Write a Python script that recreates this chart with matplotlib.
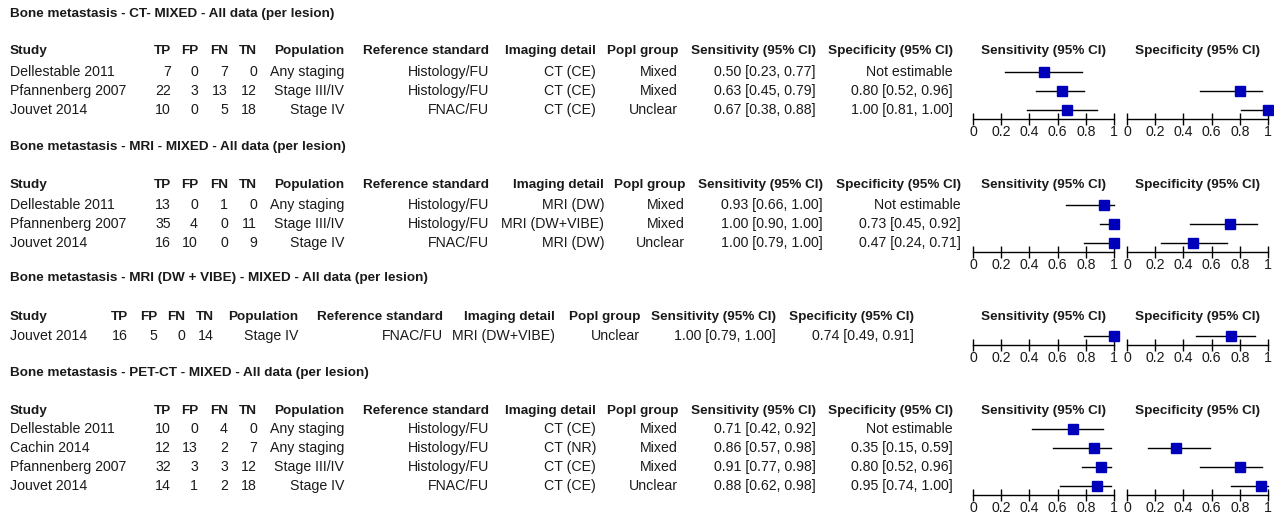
import numpy as np
import matplotlib
matplotlib.use("Agg")
from matplotlib import pyplot as plt

# --- data
titles = ["Bone metastasis - CT- MIXED - All data (per lesion)",
          "Bone metastasis - MRI - MIXED - All data (per lesion)",
          "Bone metastasis - MRI (DW + VIBE) - MIXED - All data (per lesion)",
          "Bone metastasis - PET-CT - MIXED - All data (per lesion)"]

studies = [["Dellestable 2011", "Pfannenberg 2007", "Jouvet 2014"],
           ["Dellestable 2011", "Pfannenberg 2007", "Jouvet 2014"],
           ["Jouvet 2014"],
           ["Dellestable 2011", "Cachin 2014", "Pfannenberg 2007", "Jouvet 2014"]]

tp = [[7, 22, 10], [13, 35, 16], [16], [10, 12, 32, 14]]
fp = [[0, 3, 0], [0, 4, 10], [5], [0, 13, 3, 1]]
fn = [[7, 13, 5], [1, 0, 0], [0], [4, 2, 3, 2]]
tn = [[0, 12, 18], [0, 11, 9], [14], [0, 7, 12, 18]]

population = [["Any staging", "Stage III/IV", "Stage IV"],
              ["Any staging", "Stage III/IV", "Stage IV"],
              ["Stage IV"],
              ["Any staging", "Any staging", "Stage III/IV", "Stage IV"]]
ref_std = [["Histology/FU", "Histology/FU", "FNAC/FU"],
           ["Histology/FU", "Histology/FU", "FNAC/FU"],
           ["FNAC/FU"],
           ["Histology/FU", "Histology/FU", "Histology/FU", "FNAC/FU"]]
imaging = [["CT (CE)", "CT (CE)", "CT (CE)"],
           ["MRI (DW)", "MRI (DW+VIBE)", "MRI (DW)"],
           ["MRI (DW+VIBE)"],
           ["CT (CE)", "CT (NR)", "CT (CE)", "CT (CE)"]]
popl_group = [["Mixed", "Mixed", "Unclear"],
              ["Mixed", "Mixed", "Unclear"],
              ["Unclear"],
              ["Mixed", "Mixed", "Mixed", "Unclear"]]

sens = [[0.50, 0.63, 0.67], [0.93, 1.00, 1.00], [1.00], [0.71, 0.86, 0.91, 0.88]]
sens_lo = [[0.23, 0.45, 0.38], [0.66, 0.90, 0.79], [0.79], [0.42, 0.57, 0.77, 0.62]]
sens_hi = [[0.77, 0.79, 0.88], [1.00, 1.00, 1.00], [1.00], [0.92, 0.98, 0.98, 0.98]]

# None = not estimable
spec = [[None, 0.80, 1.00], [None, 0.73, 0.47], [0.74], [None, 0.35, 0.80, 0.95]]
spec_lo = [[None, 0.52, 0.81], [None, 0.45, 0.24], [0.49], [None, 0.15, 0.52, 0.74]]
spec_hi = [[None, 0.96, 1.00], [None, 0.92, 0.71], [0.91], [None, 0.59, 0.96, 1.00]]

headers = ["Study", "TP", "FP", "FN", "TN", "Population", "Reference standard",
           "Imaging detail", "Popl group", "Sensitivity (95% CI)", "Specificity (95% CI)"]
tick_vals = [0, 0.2, 0.4, 0.6, 0.8, 1]
tick_labels = ["0", "0.2", "0.4", "0.6", "0.8", "1"]

# --- layout (pixels)
W, H = 1274, 513
FS = 10.2      # regular text
FSB = 9.7      # bold titles / headers
TXT = "#1a1a1a"
BLUE = "#0000bb"
title_y = [14, 147, 278, 373]
header_y = [51, 185, 317, 411]
row0_y = [72, 205, 336, 429]
row_step = 19.0
axis_gap = 8.5
# left edge of study column, right edges of the other columns
col_x = [
    [10, 171, 198, 228, 257, 344, 489, 596, 678, 816, 953],
    [10, 171, 198, 228, 257, 344, 489, 604, 685, 823, 961],
    [10, 128, 157, 185, 214, 298, 443, 555, 640, 776, 914],
    [10, 171, 198, 228, 257, 344, 489, 596, 678, 816, 953],
]
sens_ax_x = (973, 1114)
spec_ax_x = (1127, 1268)

plt.rcParams['font.family'] = ['Liberation Sans', 'DejaVu Sans']

fig = plt.figure(figsize=(W / 100, H / 100), dpi=100)
bg = fig.add_axes([0, 0, 1, 1])
bg.set_xlim(0, W)
bg.set_ylim(H, 0)
bg.axis('off')


def fmt_ci(e, lo, hi):
    if e is None:
        return "Not estimable"
    return "%.2f [%.2f, %.2f]" % (e, lo, hi)


def forest(x_rng, y_top, n, est, lo, hi):
    y_axis = y_top + (n - 1) * row_step + axis_gap
    top = y_top - row_step / 2
    ax = fig.add_axes([x_rng[0] / W, 1 - y_axis / H,
                       (x_rng[1] - x_rng[0]) / W, (y_axis - top) / H])
    ax.set_xlim(0, 1)
    ax.set_ylim((n - 1) + axis_gap / row_step, -0.5)
    ax.patch.set_alpha(0)
    for s in ['top', 'left', 'right']:
        ax.spines[s].set_visible(False)
    ax.spines['bottom'].set_linewidth(1.0)
    ax.set_yticks([])
    ax.set_xticks(tick_vals)
    ax.set_xticklabels(tick_labels, fontsize=FS, color=TXT)
    ax.tick_params(axis='x', direction='inout', length=8, width=1, pad=1)
    for i in range(n):
        if est[i] is None:
            continue
        ax.plot([lo[i], hi[i]], [i, i], color='black', lw=1, clip_on=False)
        ax.plot(est[i], i, marker='s', ms=6.6, color=BLUE, mec=BLUE, clip_on=False)
    return ax


for k in range(len(titles)):
    bg.text(10, title_y[k], titles[k], fontsize=FSB, fontweight='bold', color=TXT, va='center')
    cx = col_x[k]
    for j, h in enumerate(headers):
        bg.text(cx[j], header_y[k], h, fontsize=FSB, fontweight='bold', color=TXT,
                va='center', ha='left' if j == 0 else 'right')
    n = len(studies[k])
    for i in range(n):
        y = row0_y[k] + i * row_step
        vals = [studies[k][i], str(tp[k][i]), str(fp[k][i]), str(fn[k][i]), str(tn[k][i]),
                population[k][i], ref_std[k][i], imaging[k][i], popl_group[k][i],
                fmt_ci(sens[k][i], sens_lo[k][i], sens_hi[k][i]),
                fmt_ci(spec[k][i], spec_lo[k][i], spec_hi[k][i])]
        for j, v in enumerate(vals):
            bg.text(cx[j], y, v, fontsize=FS, color=TXT, va='center',
                    ha='left' if j == 0 else 'right')
    # forest plot headers
    bg.text(sum(sens_ax_x) / 2, header_y[k], "Sensitivity (95% CI)", fontsize=FSB,
            fontweight='bold', color=TXT, va='center', ha='center')
    bg.text(sum(spec_ax_x) / 2, header_y[k], "Specificity (95% CI)", fontsize=FSB,
            fontweight='bold', color=TXT, va='center', ha='center')
    forest(sens_ax_x, row0_y[k], n, sens[k], sens_lo[k], sens_hi[k])
    forest(spec_ax_x, row0_y[k], n, spec[k], spec_lo[k], spec_hi[k])

fig.savefig("out.png", dpi=100)
